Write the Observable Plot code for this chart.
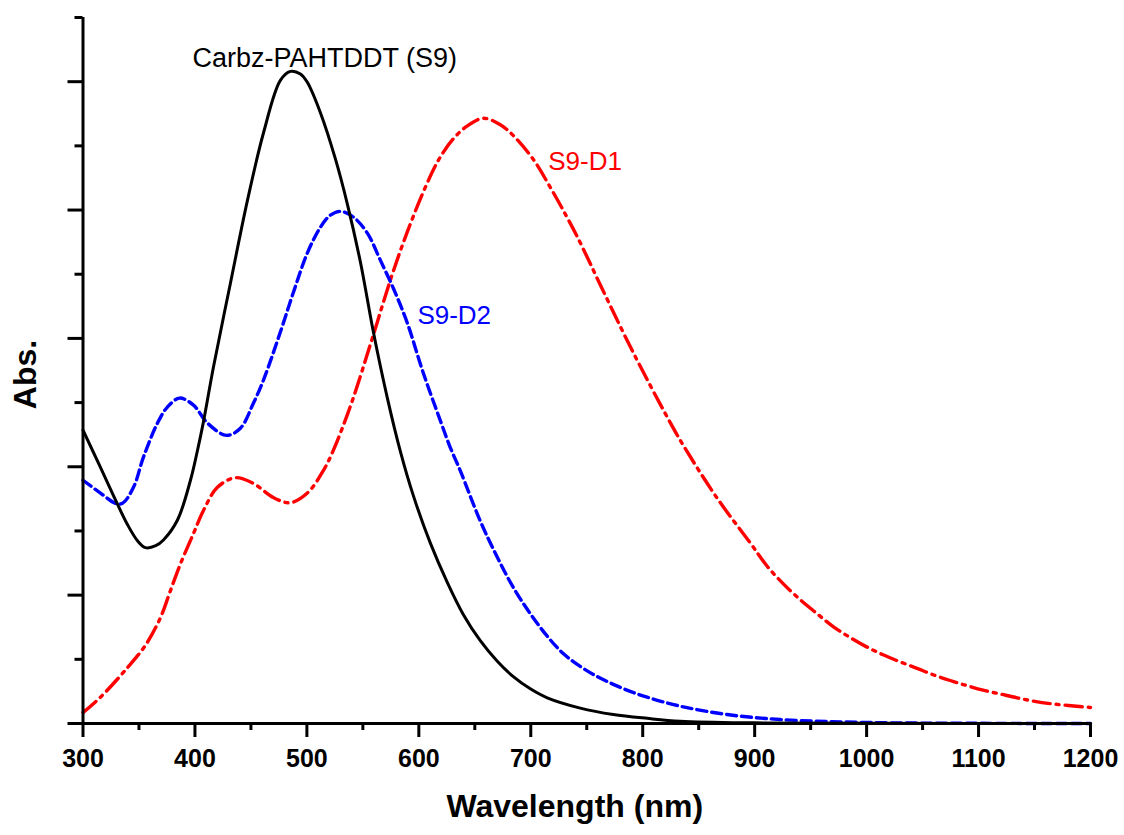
<!DOCTYPE html>
<html>
<head>
<meta charset="utf-8">
<script src="https://cdn.jsdelivr.net/npm/d3@7"></script>
<script src="https://cdn.jsdelivr.net/npm/@observablehq/plot@0.6"></script>
<style>
  html, body { margin: 0; padding: 0; background: #ffffff; }
  #chart svg { display: block; }
</style>
</head>
<body>
<div id="chart"></div>
<script>
// ---- Data ----
const s9Wl  = [300, 315.6, 327, 339.7, 349, 355.8, 365, 371.9, 384.4, 396, 402.2, 407.6, 416.5, 431.7, 446.9, 461.2, 476.3, 485.3, 494.2, 500.4, 512, 525.4, 536.2, 547.8, 559.4, 571.9, 583.5, 595.1, 610.3, 625.4, 639.7, 654.9, 670.1, 684.4, 699.6, 714.7, 744.2, 773.7, 804, 833.5, 900, 1000, 1200];
const s9Abs = [0.457, 0.399, 0.356, 0.310, 0.284, 0.274, 0.277, 0.286, 0.317, 0.379, 0.425, 0.470, 0.555, 0.686, 0.815, 0.920, 1.002, 1.016, 1.012, 0.999, 0.952, 0.880, 0.809, 0.719, 0.610, 0.507, 0.424, 0.355, 0.281, 0.220, 0.170, 0.129, 0.097, 0.073, 0.054, 0.040, 0.024, 0.014, 0.008, 0.0036, 0.001, 0.0002, 0.0];

const d2Wl  = [300, 315.6, 329, 335.3, 345.1, 354, 366.5, 375.4, 386.2, 398.7, 411.2, 428.1, 440.6, 452.2, 461.2, 476.3, 488, 500.4, 512, 521, 529.9, 541.5, 554, 565.6, 578, 589.7, 604, 619.2, 628.1, 637, 655, 670.1, 684.4, 699.6, 714.7, 729, 744.2, 759.4, 773.7, 788.8, 804, 833.5, 875.4, 922.8, 1000.4, 1100, 1200];
const d2Abs = [0.379, 0.359, 0.343, 0.343, 0.368, 0.415, 0.468, 0.493, 0.507, 0.496, 0.468, 0.449, 0.460, 0.499, 0.535, 0.610, 0.672, 0.733, 0.773, 0.792, 0.798, 0.789, 0.764, 0.722, 0.675, 0.624, 0.546, 0.472, 0.430, 0.394, 0.315, 0.259, 0.212, 0.171, 0.136, 0.109, 0.089, 0.073, 0.061, 0.050, 0.041, 0.027, 0.014, 0.0062, 0.0016, 0.0003, 0.0];

const d1Wl  = [300, 315.6, 339.7, 355.8, 369.2, 378.1, 387.1, 398.7, 407.6, 420.1, 436.2, 452.2, 470.1, 485.3, 500.4, 514.7, 523.7, 540, 557.5, 574.6, 589.7, 606.7, 618.3, 630.8, 643.3, 657.6, 672.8, 684.4, 702.2, 717.4, 732.6, 744.2, 762.9, 791.5, 822.8, 836.2, 866.5, 896, 911.2, 925.4, 940.6, 955.8, 970.1, 985.3, 1000.4, 1014.7, 1029.9, 1045, 1059.4, 1074.6, 1089.7, 1104, 1119.2, 1134.4, 1148.7, 1163.8, 1200];
const d1Abs = [0.017, 0.041, 0.087, 0.122, 0.165, 0.207, 0.249, 0.296, 0.332, 0.368, 0.383, 0.374, 0.352, 0.344, 0.359, 0.394, 0.426, 0.500, 0.595, 0.691, 0.766, 0.839, 0.880, 0.911, 0.931, 0.943, 0.933, 0.916, 0.879, 0.8355, 0.788, 0.749, 0.6805, 0.578, 0.4745, 0.4335, 0.351, 0.2815, 0.245, 0.218, 0.193, 0.171, 0.151, 0.134, 0.119, 0.107, 0.096, 0.086, 0.076, 0.067, 0.059, 0.052, 0.046, 0.040, 0.035, 0.031, 0.025];

const xMajorTicks = [300, 400, 500, 600, 700, 800, 900, 1000, 1100, 1200];
const xMinorTicks = [350, 450, 550, 650, 750, 850, 950, 1050, 1150];
const yMajorTicks = [0, 0.2, 0.4, 0.6, 0.8, 1.0];
const yMinorTicks = [0.1, 0.3, 0.5, 0.7, 0.9, 1.1];

const labelText  = ["Carbz-PAHTDDT (S9)", "S9-D1", "S9-D2"];
const labelWl    = [397.8, 715.6, 598.7];
const labelAbs   = [1.037, 0.875, 0.635];
const labelColor = ["#000000", "#ff0000", "#0000ff"];
const labelSize  = [27, 26, 26];

// ---- Build tables ----
const s9 = s9Wl.map((w, i) => ({wl: w, abs: s9Abs[i]}));
const d2 = d2Wl.map((w, i) => ({wl: w, abs: d2Abs[i]}));
const d1 = d1Wl.map((w, i) => ({wl: w, abs: d1Abs[i]}));
const labels = labelText.map((t, i) => ({text: t, wl: labelWl[i], abs: labelAbs[i], color: labelColor[i], size: labelSize[i]}));

const FONT = "'Liberation Sans', Arial, Helvetica, sans-serif";
const AX = 3;

const chart = Plot.plot({
  width: 1124,
  height: 835,
  marginLeft: 82.5,
  marginRight: 34,
  marginTop: 17,
  marginBottom: 112,
  style: {fontFamily: FONT, background: "#ffffff", color: "#000"},
  x: {domain: [300, 1200], axis: null},
  y: {domain: [0, 1.1], axis: null},
  marks: [
    // curves
    Plot.line(d1, {x: "wl", y: "abs", stroke: "#ff0000", strokeWidth: 3.4, strokeDasharray: "17,6,3,6", curve: "catmull-rom"}),
    Plot.line(d2, {x: "wl", y: "abs", stroke: "#0000ff", strokeWidth: 3.4, strokeDasharray: "10,5", curve: "catmull-rom"}),
    Plot.line(s9, {x: "wl", y: "abs", stroke: "#000000", strokeWidth: 3, curve: "catmull-rom"}),
    // axes
    Plot.axisX(xMajorTicks, {anchor: "bottom", tickSize: 14, tickPadding: 12, strokeWidth: AX, fontSize: 25, fontWeight: "bold", tickFormat: d => String(d), label: null}),
    Plot.axisX(xMinorTicks, {anchor: "bottom", tickSize: 7, strokeWidth: AX, tickFormat: () => "", label: null}),
    Plot.axisY(yMajorTicks, {anchor: "left", tickSize: 15, strokeWidth: AX, tickFormat: () => "", label: null}),
    Plot.axisY(yMinorTicks, {anchor: "left", tickSize: 8, strokeWidth: AX, tickFormat: () => "", label: null}),
    Plot.ruleY([0], {stroke: "#000", strokeWidth: AX}),
    Plot.ruleX([300], {stroke: "#000", strokeWidth: AX}),
    // axis titles
    Plot.text(["Wavelength (nm)"], {frameAnchor: "bottom", dx: -12, dy: 83, textAnchor: "middle", lineAnchor: "middle", fontSize: 32, fontWeight: "bold", fill: "#000"}),
    Plot.text(["Abs."], {frameAnchor: "left", dx: -57, dy: 4, rotate: -90, textAnchor: "middle", lineAnchor: "middle", fontSize: 32, fontWeight: "bold", fill: "#000"}),
    // curve labels
    Plot.text(labels, {x: "wl", y: "abs", text: "text", fill: "color", fontSize: "size", textAnchor: "start", lineAnchor: "middle"})
  ]
});

document.getElementById("chart").appendChild(chart);
</script>
</body>
</html>
